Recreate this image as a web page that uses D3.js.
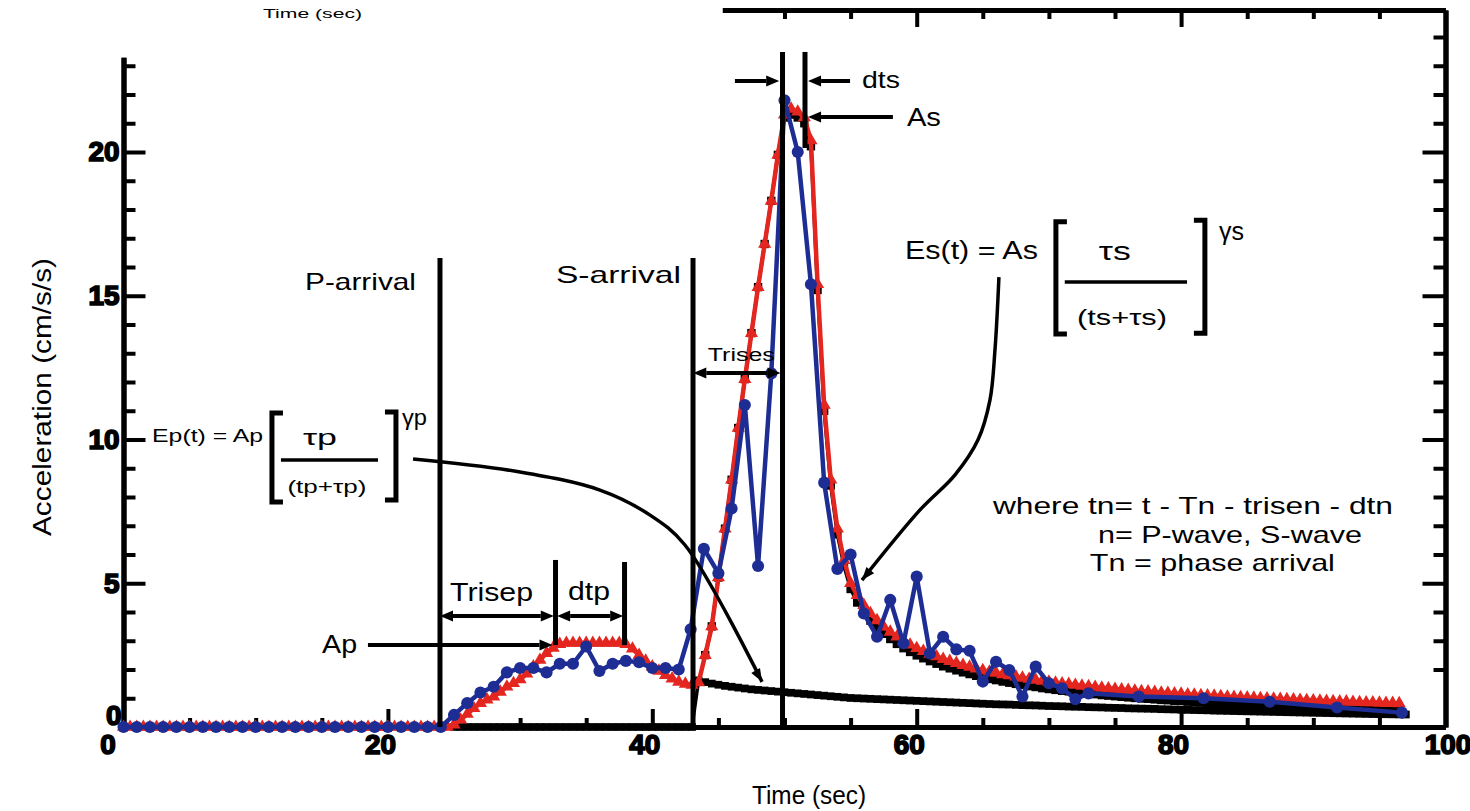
<!DOCTYPE html>
<html>
<head>
<meta charset="utf-8">
<script src="https://cdn.jsdelivr.net/npm/d3@7"></script>
<style>
  html, body { margin: 0; padding: 0; background: #fff; }
  svg { display: block; }
  text { font-family: "Liberation Sans", Arial, sans-serif; fill: #000; }
</style>
</head>
<body>
<svg id="chart" width="1470" height="811"></svg>
<script>
// ── Data (time in sec, acceleration in cm/s/s) ─────────────────────────────
// combined model envelope (red triangles), sampled every 0.5 s from t = 0
const RED_T0 = 0, RED_DT = 0.5;
const redValues = [
  0,0,0,0,0,0,0,0,0,0, 0,0,0,0,0,0,0,0,0,0, 0,0,0,0,0,0,0,0,0,0,
  0,0,0,0,0,0,0,0,0,0, 0,0,0,0,0,0,0,0,0,0,
  0.08,0.25,0.45,0.65,0.83,0.95,1.05,1.22,1.4,1.52,
  1.65,1.85,2.1,2.33,2.57,2.75,2.88,2.92,2.92,2.92,
  2.92,2.92,2.92,2.92,2.92,2.92,2.88,2.72,2.5,2.3,
  2.1,1.95,1.8,1.68,1.57,1.5,1.46,1.55,2.5,3.5,
  5.2,6.9,8.6,10.4,12.1,13.7,15.3,16.8,18.3,19.9,
  21.3,21.5,21.4,21.2,20.4,15.4,11.2,8.6,6.9,5.8,
  5.0,4.58,4.24,3.95,3.71,3.49,3.31,3.14,2.99,2.86,
  2.74,2.64,2.54,2.45,2.36,2.29,2.22,2.15,2.09,2.03,
  1.97,1.92,1.88,1.83,1.79,1.75,1.71,1.67,1.64,1.60,
  1.57,1.54,1.51,1.49,1.46,1.43,1.41,1.39,1.36,1.34,
  1.32,1.30,1.28,1.26,1.24,1.23,1.21,1.19,1.18,1.16,
  1.15,1.13,1.12,1.10,1.09,1.08,1.07,1.05,1.04,1.03,
  1.02,1.01,1.00,0.99,0.98,0.97,0.96,0.95,0.94,0.93,
  0.92,0.91,0.90,0.89,0.88,0.88,0.87,0.86,0.85,0.85,
  0.84,0.83,0.83,0.82
];

// S-wave model envelope (black squares), every 0.5 s from t = 44
const S_T0 = 44, S_DT = 0.5;
const sModelValues = [
  2.5,3.5,5.2,6.9,8.6,10.4,12.1,13.7,15.3,16.8,
  18.3,19.9,21.2,21.3,21.2,21.0,20.2,15.2,11.0,8.4,
  6.7,5.6,4.8,
  4.33,3.99,3.70,3.46,3.24,3.06,2.89,2.74,2.61,2.49,
  2.39,2.29,2.20,2.11,2.04,1.97,1.90,1.84,1.78,1.72,
  1.67,1.63,1.58,1.54,1.50,1.46,1.42,1.39,1.35,1.32,
  1.29,1.26,1.24,1.21,1.18,1.16,1.14,1.11,1.09,1.07,
  1.05,1.03,1.01,0.99,0.98,0.96,0.94,0.93,0.91,0.90,
  0.88,0.87,0.85,0.84,0.83,0.82,0.80,0.79,0.78,0.77,
  0.76,0.75,0.74,0.73,0.72,0.71,0.70,0.69,0.68,0.67,
  0.66,0.65,0.64,0.63,0.63,0.62,0.61,0.60,0.60,0.59,
  0.58,0.58,0.57
];

// P-wave model envelope (black, lower curve), every 0.5 s from t = 25
const P_T0 = 25, P_DT = 0.5;
const pModelValues = [
  0,0,0,0,0,0,0,0,0,0, 0,0,0,0,0,0,0,0,0,0,
  0,0,0,0,0,0,0,0,0,0, 0,0,0,0,0,0,0,
  1.62,1.56,1.51,1.47,1.43,1.40,1.37,1.34,1.31,1.29,
  1.27,1.25,1.23,1.21,1.19,1.17,1.15,1.13,1.11,1.09,
  1.07,1.05,1.03,1.01,1.00,0.99,0.98,0.97,0.96,0.95,
  0.94,0.93,0.92,0.91,0.90,0.89,0.88,0.87,0.86,0.85,
  0.84,0.83,0.82,0.81,0.80,0.79,0.785,0.78,0.77,0.76,
  0.755,0.75,0.74,0.73,0.725,0.72,0.71,0.705,0.70,0.69,
  0.685,0.68,0.67,0.665,0.66,0.65,0.645,0.64,0.635,0.63,
  0.62,0.615,0.61,0.60,0.595,0.59,0.585,0.58,0.57,0.565,
  0.56,0.555,0.55,0.545,0.54,0.535,0.53,0.525,0.52,0.515,
  0.51,0.505,0.50,0.495,0.49,0.485,0.48,0.475,0.47,0.465,
  0.46,0.455,0.45,0.447,0.444,0.441,0.438,0.435
];

// recorded acceleration (blue circles)
const blueTimes = [
  0,1,2,3,4,5,6,7,8,9,10,11,12,13,14,15,16,17,18,19,20,21,22,23,24,
  25,26,27,28,29,30,31,32,33,34,35,36,37,38,39,40,41,42,42.9,43.9,
  45,46,47,48,49,50,51,52,53,54,55,56,57,58,59,60,61,62,63,64,65,
  66,67,68,69,70,71,72,73,76.8,81.7,86.7,91.8,96.7
];
const blueValues = [
  0,0,0,0,0,0,0,0,0,0,0,0,0,0,0,0,0,0,0,0,0,0,0,0,0,
  0.42,0.83,1.2,1.4,1.9,2.05,2.05,1.9,2.2,2.2,2.8,1.95,2.2,2.3,2.25,2.05,2.05,2.0,3.4,6.2,
  5.35,7.6,11.2,5.6,12.3,21.8,20.0,15.4,8.5,5.5,6.0,3.95,3.14,4.42,2.91,5.23,2.56,3.14,2.7,2.65,1.58,
  2.27,1.98,1.06,2.1,1.52,1.35,0.97,1.17,1.06,1.0,0.88,0.68,0.5
];

const xMajorTicks = [0, 20, 40, 60, 80, 100];
const xMinorTicks = [5, 10, 15, 25, 30, 35, 45, 50, 55, 65, 70, 75, 85, 90, 95];
const topMajorTicks = [60, 80];
const topMinorTicks = [50, 55, 65, 70, 75, 85, 90, 95];
const yMajorTicks = [0, 5, 10, 15, 20];
const yMinorTicks = [1, 2, 3, 4, 6, 7, 8, 9, 11, 12, 13, 14, 16, 17, 18, 19, 21, 22, 23];
const rightMinorTicks = yMinorTicks.slice(1).concat([24]);

// ── Annotations (in data units) ────────────────────────────────────────────
// vertical markers: [t, v bottom, v top]
const markerLines = [
  [23.94, 0, 16.31], [43.08, 0, 16.31], [49.85, 0, 23.48], [51.55, 20.14, 23.48],
  [32.68, 2.85, 5.81], [37.9, 2.85, 5.74]
];
// horizontal arrows: [t from, t to, v, heads]
const arrows = [
  [46.25, 49.6, 22.47, 'end'], [54.96, 51.78, 22.47, 'end'], [58.2, 51.78, 21.22, 'end'],
  [43.1, 49.7, 12.31, 'both'], [23.94, 32.55, 3.86, 'both'], [32.8, 37.8, 3.86, 'both'],
  [18.49, 32.45, 2.85, 'end']
];
// brackets: [t, v top, v bottom, serif direction]
const brackets = [
  [11.23, 10.92, 7.83, 1], [20.61, 10.96, 7.9, -1],
  [70.53, 17.57, 13.67, 1], [81.8, 17.63, 13.7, -1]
];
// fraction bars: [t from, t to, v]
const fractionBars = [[11.91, 19.25, 9.29], [71.2, 80.45, 15.48]];
// pointer curves
const epPointer = [[21.9, 9.32], [29.99, 8.87], [36.04, 8.24], [39.83, 7.37], [42.47, 6.33], [48.3, 1.57]];
const esPointer = [[66.22, 15.65], [65.92, 13.11], [65.54, 11.37], [64.63, 9.98], [62.9, 8.77], [60.25, 7.55], [55.86, 5.11]];
// text: [label, t, v, width px, font px, anchor]
const labels = [
  ['P-arrival', 13.73, 15.51, 111, 24, 'start'],
  ['S-arrival', 32.71, 15.76, 125, 24, 'start'],
  ['dts', 55.86, 22.54, 38, 24, 'start'],
  ['As', 59.26, 21.22, 34, 26, 'start'],
  ['Trises', 44.2, 12.94, 67, 18, 'start'],
  ['Trisep', 24.7, 4.70, 83, 25, 'start'],
  ['dtp', 33.62, 4.73, 42, 25, 'start'],
  ['Ap', 15.02, 2.89, 35, 26, 'start'],
  ['where tn= t - Tn - trisen - dtn', 65.77, 7.72, 400, 24, 'start'],
  ['n= P-wave, S-wave', 73.71, 6.71, 264, 24, 'start'],
  ['Tn = phase arrival', 73.1, 5.74, 245, 24, 'start'],
  ['Ep(t) = Ap', 2.16, 10.16, 111, 19, 'start'],
  ['τp', 14.86, 10.09, 34, 22, 'middle'],
  ['(tp+τp)', 15.39, 8.35, 79, 18, 'middle'],
  ['γp', 21.07, 10.78, 25, 22, 'start'],
  ['Es(t) = As', 59.11, 16.59, 133, 26, 'start'],
  ['τs', 74.99, 16.56, 32, 26, 'middle'],
  ['(ts+τs)', 75.53, 14.26, 90, 22, 'middle'],
  ['γs', 82.87, 17.25, 25, 25, 'start']
];

// ── Scales ─────────────────────────────────────────────────────────────────
const svg = d3.select('#chart');
svg.append('rect').attr('width', 1470).attr('height', 811).attr('fill', '#fff');

const xs = d3.scaleLinear().domain([0, 100]).range([123.5, 1445.5]);
const ys = d3.scaleLinear().domain([0, 20]).range([727, 152]);
const yLeft = d3.scaleLinear().domain([0, 23.3]).range([ys(0), ys(23.3)]);
const yRight = d3.scaleLinear().domain([0, 24.94]).range([ys(0), ys(24.94)]);
const xTop = d3.scaleLinear().domain([45.3, 100]).range([xs(45.3), xs(100)]);

// ── Axes ───────────────────────────────────────────────────────────────────
const axes = svg.append('g').attr('class', 'axes');

function addAxis(gen, tx, ty, ticks, size, withLabels) {
  const a = axes.append('g').attr('transform', `translate(${tx},${ty})`)
    .call(gen.tickValues(ticks).tickSize(size).tickSizeOuter(0)
      .tickPadding(withLabels ? withLabels : 3)
      .tickFormat(withLabels ? d3.format('d') : ''));
  a.select('.domain').attr('stroke', '#000').attr('stroke-width', 5);
  a.selectAll('.tick line').attr('stroke', '#000').attr('stroke-width', 4);
  return a;
}

addAxis(d3.axisBottom(xs), 0, ys(0), xMinorTicks, -9);
const xLab = addAxis(d3.axisBottom(xs), 0, ys(0), xMajorTicks, -18, 7);
addAxis(d3.axisLeft(yLeft), xs(0), 0, yMinorTicks, -12);
const yLab = addAxis(d3.axisLeft(yLeft), xs(0), 0, yMajorTicks, -22, 4);
addAxis(d3.axisRight(yRight), xs(100), 0, rightMinorTicks, -12);
addAxis(d3.axisRight(yRight), xs(100), 0, yMajorTicks.slice(1), -23);
addAxis(d3.axisTop(xTop), 0, yRight.range()[1], topMinorTicks, -9);
addAxis(d3.axisTop(xTop), 0, yRight.range()[1], topMajorTicks, -17);

[xLab, yLab].forEach(a => a.selectAll('.tick text')
  .attr('font-family', '"Liberation Sans Narrow", "DejaVu Sans Condensed", sans-serif')
  .attr('font-weight', 'bold').attr('font-size', 28)
  .attr('stroke', '#000').attr('stroke-width', 1.7)
  .attr('textLength', d => String(d).length * 15.5)
  .attr('lengthAdjust', 'spacingAndGlyphs'));
xLab.selectAll('.tick text').attr('dx', d => d === 100 ? 2 : d === 0 ? -16 : -8);
yLab.selectAll('.tick text').filter(d => d === 0).attr('dy', '-0.08em').attr('dx', 2);

// ── Series ─────────────────────────────────────────────────────────────────
const plot = svg.append('g').attr('class', 'series');
const line = d3.line().x(d => xs(d[0])).y(d => ys(d[1]));
const sampled = (t0, dt, vals) => vals.map((v, i) => [t0 + i * dt, v]);

function drawSeries(pts, color, width, symbol, size) {
  plot.append('path').datum(pts)
    .attr('d', line).attr('fill', 'none')
    .attr('stroke', color).attr('stroke-width', width)
    .attr('stroke-linejoin', 'round');
  plot.append('g').selectAll('path').data(pts).join('path')
    .attr('transform', d => `translate(${xs(d[0])},${ys(d[1])})`)
    .attr('d', d3.symbol(symbol, size)())
    .attr('fill', color);
}

drawSeries(sampled(P_T0, P_DT, pModelValues), '#000', 3.5, d3.symbolSquare, 60);
drawSeries(sampled(S_T0, S_DT, sModelValues), '#000', 3.5, d3.symbolSquare, 70);
drawSeries(sampled(RED_T0, RED_DT, redValues), '#e3261f', 4.5, d3.symbolTriangle, 75);
drawSeries(blueTimes.map((t, i) => [t, blueValues[i]]), '#1d2d94', 4.5, d3.symbolCircle, 115);

// ── Annotations ────────────────────────────────────────────────────────────
const ann = svg.append('g').attr('class', 'annotations');

function head(x, y, dx, dy, len, half) {
  const L = Math.hypot(dx, dy), ux = dx / L, uy = dy / L;
  const bx = x - ux * len, by = y - uy * len;
  return `M${x},${y}L${bx - uy * half},${by + ux * half}L${bx + uy * half},${by - ux * half}Z`;
}

ann.selectAll('line.marker').data(markerLines).join('line')
  .attr('class', 'marker')
  .attr('x1', d => xs(d[0])).attr('x2', d => xs(d[0]))
  .attr('y1', d => ys(d[1])).attr('y2', d => ys(d[2]))
  .attr('stroke', '#000').attr('stroke-width', 5);

const HL = 13, HW = 5.5;
arrows.forEach(([t0, t1, v, kind]) => {
  const x0 = xs(t0), x1 = xs(t1), y = ys(v), dir = Math.sign(x1 - x0);
  ann.append('line')
    .attr('x1', kind === 'both' ? x0 + dir * HL : x0).attr('x2', x1 - dir * HL)
    .attr('y1', y).attr('y2', y)
    .attr('stroke', '#000').attr('stroke-width', 4);
  ann.append('path').attr('d', head(x1, y, dir, 0, HL, HW)).attr('fill', '#000');
  if (kind === 'both') ann.append('path').attr('d', head(x0, y, -dir, 0, HL, HW)).attr('fill', '#000');
});

brackets.forEach(([t, v0, v1, s]) => {
  const x = xs(t), yTop = ys(v0), yBot = ys(v1);
  ann.append('path')
    .attr('d', `M${x + s * 11},${yTop}H${x}V${yBot}H${x + s * 11}`)
    .attr('fill', 'none').attr('stroke', '#000').attr('stroke-width', 5)
    .attr('stroke-linejoin', 'miter');
});

ann.selectAll('line.frac').data(fractionBars).join('line')
  .attr('class', 'frac')
  .attr('x1', d => xs(d[0])).attr('x2', d => xs(d[1]))
  .attr('y1', d => ys(d[2])).attr('y2', d => ys(d[2]))
  .attr('stroke', '#000').attr('stroke-width', 3.5);

const curveLine = d3.line().x(d => xs(d[0])).y(d => ys(d[1])).curve(d3.curveCatmullRom.alpha(0.5));
[epPointer, esPointer].forEach(pts => {
  const n = pts.length;
  const ex = xs(pts[n - 1][0]), ey = ys(pts[n - 1][1]);
  const px = xs(pts[n - 2][0]), py = ys(pts[n - 2][1]);
  ann.append('path').datum(pts).attr('d', curveLine)
    .attr('fill', 'none').attr('stroke', '#000').attr('stroke-width', 3.5);
  ann.append('path').attr('d', head(ex, ey, ex - px, ey - py, 13, 5)).attr('fill', '#000');
});

ann.selectAll('text.lbl').data(labels).join('text')
  .attr('class', 'lbl')
  .attr('x', d => xs(d[1])).attr('y', d => ys(d[2])).attr('dy', '0.36em')
  .attr('font-size', d => d[4]).attr('text-anchor', d => d[5])
  .attr('textLength', d => d[3]).attr('lengthAdjust', 'spacingAndGlyphs')
  .text(d => d[0]);

// ── Axis titles ────────────────────────────────────────────────────────────
svg.append('text').attr('x', 809).attr('y', 795).attr('dy', '0.36em')
  .attr('text-anchor', 'middle').attr('font-size', 25)
  .attr('textLength', 114).attr('lengthAdjust', 'spacingAndGlyphs')
  .text('Time (sec)');

svg.append('text').attr('transform', 'translate(42,397) rotate(-90)')
  .attr('dy', '0.36em').attr('text-anchor', 'middle').attr('font-size', 26)
  .attr('textLength', 278).attr('lengthAdjust', 'spacingAndGlyphs')
  .text('Acceleration (cm/s/s)');

svg.append('text').attr('x', 263).attr('y', 13).attr('dy', '0.36em')
  .attr('font-size', 13)
  .attr('textLength', 99).attr('lengthAdjust', 'spacingAndGlyphs')
  .text('Time (sec)');
</script>
</body>
</html>
